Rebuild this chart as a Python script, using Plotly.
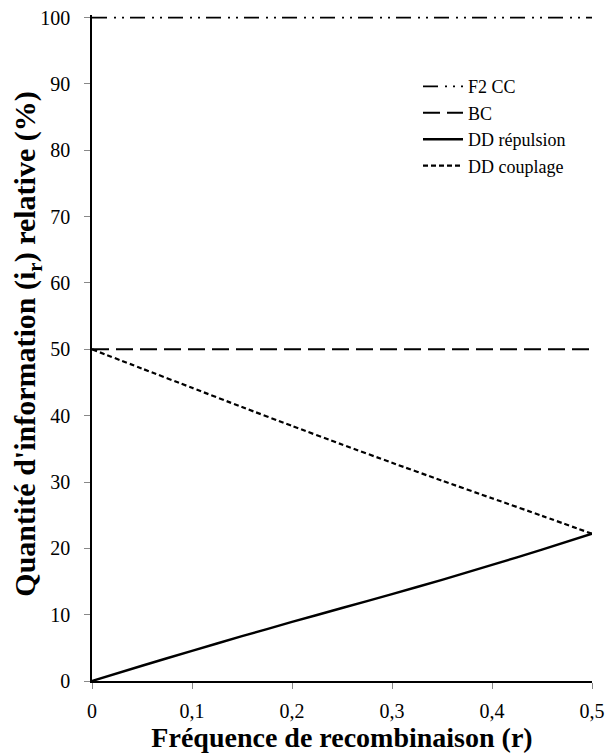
import plotly.graph_objects as go

# Data
r_values = [0.0, 0.05, 0.1, 0.15, 0.2, 0.25, 0.3, 0.35, 0.4, 0.45, 0.5]
f2_cc = [100, 100, 100, 100, 100, 100, 100, 100, 100, 100, 100]
bc = [50, 50, 50, 50, 50, 50, 50, 50, 50, 50, 50]
dd_repulsion = [0.0, 2.3, 4.55, 6.75, 8.9, 11.0, 13.1, 15.25, 17.5, 19.8, 22.2]
dd_couplage = [50.0, 47.1, 44.2, 41.3, 38.45, 35.65, 32.9, 30.2, 27.55, 24.9, 22.2]

series_names = ["F2 CC", "BC", "DD répulsion", "DD couplage"]

x_tickvals = [0, 0.1, 0.2, 0.3, 0.4, 0.5]
x_ticktext = ["0", "0,1", "0,2", "0,3", "0,4", "0,5"]
y_tickvals = [0, 10, 20, 30, 40, 50, 60, 70, 80, 90, 100]
y_ticktext = ["0", "10", "20", "30", "40", "50", "60", "70", "80", "90", "100"]

x_title = "<b>Fréquence de recombinaison (r)</b>"
y_title = "<b>Quantité d'information (i<sub>r</sub>) relative (%)</b>"

FONT = "Times New Roman, Tinos, Liberation Serif, serif"

fig = go.Figure()
fig.add_trace(go.Scatter(x=r_values, y=f2_cc, mode="lines", name=series_names[0],
                         line=dict(color="black", width=1.6, dash="15px,7px,2px,6px,2px,6px")))
fig.add_trace(go.Scatter(x=r_values, y=bc, mode="lines", name=series_names[1],
                         line=dict(color="black", width=2, dash="17px,7px")))
fig.add_trace(go.Scatter(x=r_values, y=dd_repulsion, mode="lines", name=series_names[2],
                         line=dict(color="black", width=2.4, shape="spline", smoothing=0.6)))
fig.add_trace(go.Scatter(x=r_values, y=dd_couplage, mode="lines", name=series_names[3],
                         line=dict(color="black", width=2.2, dash="5px,3px",
                                   shape="spline", smoothing=0.6)))

fig.update_layout(
    width=608, height=753,
    margin=dict(l=92, r=16, t=15.35, b=72),
    paper_bgcolor="white", plot_bgcolor="white",
    font=dict(family=FONT, size=18, color="black"),
    showlegend=True,
    legend=dict(x=0.652, y=0.833, xanchor="left", yanchor="middle",
                bgcolor="rgba(0,0,0,0)", font=dict(family=FONT, size=18, color="black"),
                tracegroupgap=0, itemwidth=40),
    xaxis=dict(range=[0, 0.5], tickvals=x_tickvals, ticktext=x_ticktext, automargin=False,
               showgrid=False, zeroline=False, showline=True, linecolor="black", linewidth=1.5,
               ticks="outside", ticklen=6, tickcolor="#888", tickwidth=1,
               ticklabeloverflow="allow",
               ticklabelstandoff=5, tickfont=dict(family=FONT, size=20),
               title=dict(text=x_title, standoff=2, font=dict(family=FONT, size=28))),
    yaxis=dict(range=[0, 100.4], tickvals=y_tickvals, ticktext=y_ticktext, automargin=False,
               showgrid=False, zeroline=False, showline=True, linecolor="black", linewidth=1.5,
               ticks="outside", ticklen=6, tickcolor="#888", tickwidth=1,
               ticklabeloverflow="allow",
               ticklabelstandoff=10, tickfont=dict(family=FONT, size=20)),
    annotations=[dict(text=y_title, textangle=-90, xref="paper", yref="paper",
                      x=-0.13, y=0.505, xanchor="center", yanchor="middle",
                      showarrow=False, font=dict(family=FONT, size=30, color="black"))],
)

fig.write_html(
    "out.html",
    config={"displayModeBar": False},
    post_script="document.body.style.margin='0';document.body.style.overflow='hidden';",
)
